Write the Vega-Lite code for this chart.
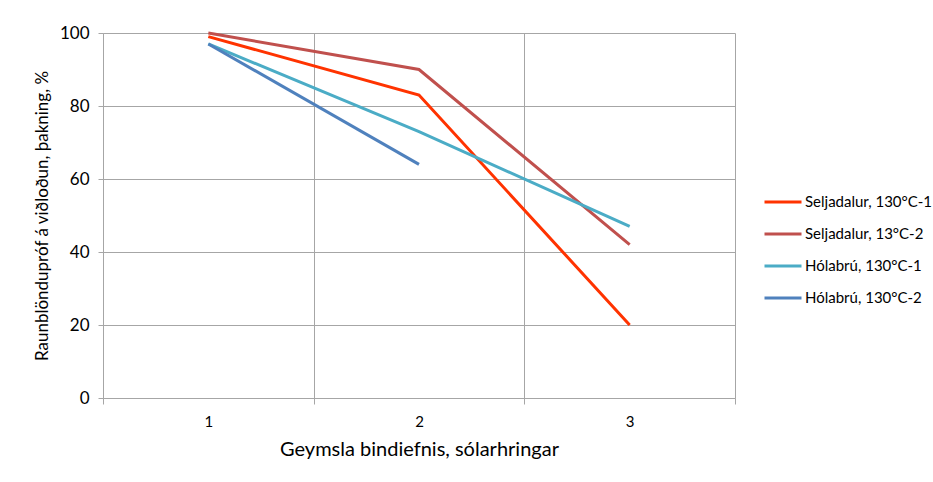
{
  "$schema": "https://vega.github.io/schema/vega-lite/v6.json",
  "width": 632,
  "height": 365,
  "autosize": {"type": "none"},
  "padding": {"left": 103, "top": 33, "right": 198, "bottom": 84},
  "background": "white",
  "config": {
    "font": "Lato",
    "view": {"stroke": null},
    "axis": {"labelFont": "Lato", "titleFont": "Lato", "labelColor": "#000000", "titleColor": "#000000", "titleFontWeight": "normal", "gridColor": "#a6a6a6", "gridWidth": 1, "domainColor": "#a6a6a6", "tickColor": "#a6a6a6"},
    "legend": {"labelFont": "Lato", "labelColor": "#000000"}
  },
  "data": {
    "values": [
      {"dagar": 1, "gildi": 99, "rod": "Seljadalur, 130°C-1"},
      {"dagar": 2, "gildi": 83, "rod": "Seljadalur, 130°C-1"},
      {"dagar": 3, "gildi": 20, "rod": "Seljadalur, 130°C-1"},
      {"dagar": 1, "gildi": 100, "rod": "Seljadalur, 13°C-2"},
      {"dagar": 2, "gildi": 90, "rod": "Seljadalur, 13°C-2"},
      {"dagar": 3, "gildi": 42, "rod": "Seljadalur, 13°C-2"},
      {"dagar": 1, "gildi": 97, "rod": "Hólabrú, 130°C-1"},
      {"dagar": 2, "gildi": 73, "rod": "Hólabrú, 130°C-1"},
      {"dagar": 3, "gildi": 47, "rod": "Hólabrú, 130°C-1"},
      {"dagar": 1, "gildi": 97, "rod": "Hólabrú, 130°C-2"},
      {"dagar": 2, "gildi": 64, "rod": "Hólabrú, 130°C-2"}
    ]
  },
  "mark": {"type": "line", "strokeWidth": 3, "strokeCap": "butt", "strokeJoin": "miter"},
  "encoding": {
    "x": {
      "field": "dagar",
      "type": "quantitative",
      "scale": {"domain": [0.5, 3.5], "nice": false, "zero": false},
      "axis": {
        "title": "Geymsla bindiefnis, sólarhringar",
        "titleFontSize": 20,
        "titlePadding": 10,
        "values": [0.5, 1, 1.5, 2, 2.5, 3, 3.5],
        "labelExpr": "datum.value % 1 == 0 ? format(datum.value, 'd') : ''",
        "labelFontSize": 15,
        "labelPadding": 10,
        "tickSize": 6,
        "tickOpacity": {"condition": {"test": "datum.value % 1 == 0", "value": 0}, "value": 1},
        "grid": true,
        "gridOpacity": {"condition": {"test": "datum.value % 1 == 0", "value": 0}, "value": 1},
        "domain": true
      }
    },
    "y": {
      "field": "gildi",
      "type": "quantitative",
      "scale": {"domain": [0, 100], "nice": false},
      "axis": {
        "title": "Raunblöndupróf á viðloðun, þakning, %",
        "titleFontSize": 17,
        "titlePadding": 8,
        "values": [0, 20, 40, 60, 80, 100],
        "labelFontSize": 17,
        "labelPadding": 9,
        "tickSize": 5,
        "grid": true,
        "domain": true
      }
    },
    "color": {
      "field": "rod",
      "type": "nominal",
      "scale": {
        "domain": ["Seljadalur, 130°C-1", "Seljadalur, 13°C-2", "Hólabrú, 130°C-1", "Hólabrú, 130°C-2"],
        "range": ["#ff3300", "#c0504d", "#4bacc6", "#4f81bd"]
      },
      "legend": {
        "title": null,
        "orient": "none",
        "legendX": 660,
        "legendY": 161,
        "symbolType": "stroke",
        "symbolSize": 1369,
        "symbolStrokeWidth": 3,
        "clipHeight": 16,
        "labelFontSize": 15,
        "labelOffset": 2,
        "rowPadding": 16
      }
    }
  }
}
